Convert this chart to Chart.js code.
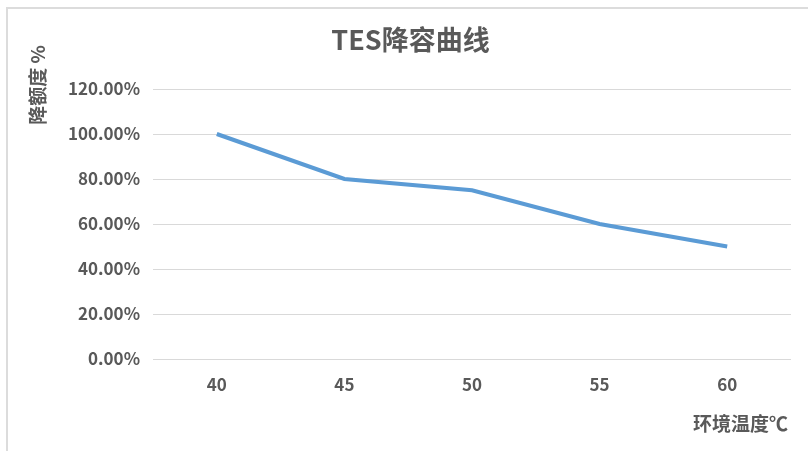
<!DOCTYPE html>
<html>
<head>
<meta charset="utf-8">
<script src="https://cdn.jsdelivr.net/npm/chart.js@4"></script>
<style>
  html, body { margin: 0; padding: 0; background: #fff; }
  #wrap { position: relative; width: 808px; height: 451px; overflow: hidden; }
  #frame {
    position: absolute; left: 6px; top: 7px; width: 900px; height: 500px;
    border-left: 2px solid #dcdcdc; border-top: 2px solid #dcdcdc;
  }
  canvas { position: absolute; left: 0; top: 0; }
</style>
</head>
<body>
<div id="wrap">
  <div id="frame"></div>
  <canvas id="chart" width="808" height="451"></canvas>
</div>
<script>
// 环境温度 (℃) 与对应降额度
const temps = ['40', '45', '50', '55', '60'];
const derating = [1.00, 0.80, 0.75, 0.60, 0.50];
const yTicks = [0, 0.2, 0.4, 0.6, 0.8, 1.0, 1.2];

const FONT = '"Noto Sans CJK SC", "Noto Sans", sans-serif';
const GREY = '#595959';

// 坐标轴标题画在图表区外侧
const axisTitles = {
  id: 'axisTitles',
  afterDraw(chart) {
    const ctx = chart.ctx;
    ctx.save();
    ctx.fillStyle = GREY;
    ctx.font = 'bold 19px ' + FONT;
    ctx.textBaseline = 'middle';

    ctx.textAlign = 'right';
    ctx.fillText('环境温度℃', 788, 424);

    ctx.translate(38, 85);
    ctx.rotate(-Math.PI / 2);
    ctx.textAlign = 'center';
    ctx.fillText('降额度 %', 0, 0);
    ctx.restore();
  }
};

new Chart(document.getElementById('chart'), {
  type: 'line',
  data: {
    labels: temps,
    datasets: [{
      data: derating,
      borderColor: '#5B9BD5',
      borderWidth: 4,
      pointRadius: 0,
      tension: 0,
      fill: false
    }]
  },
  options: {
    responsive: false,
    animation: false,
    layout: { padding: { left: 30, right: 17, top: 0, bottom: 0 } },
    plugins: {
      legend: { display: false },
      tooltip: { enabled: false },
      title: {
        display: true,
        text: 'TES降容曲线',
        color: GREY,
        font: { family: FONT, size: 27, weight: 'bold', lineHeight: 1.2 },
        padding: { top: 24, bottom: 32.6 }
      }
    },
    scales: {
      x: {
        offset: true,
        grid: { display: false },
        border: { display: false },
        ticks: {
          color: GREY,
          padding: 7,
          font: { family: FONT, size: 17, weight: 'bold' }
        },
        afterFit(scale) { scale.height = 92; }
      },
      y: {
        min: 0,
        max: 1.2,
        afterBuildTicks(scale) { scale.ticks = yTicks.map(v => ({ value: v })); },
        grid: { color: '#d9d9d9', lineWidth: 1, drawTicks: false },
        border: { display: false },
        ticks: {
          color: GREY,
          padding: 13,
          font: { family: FONT, size: 17, weight: 'bold' },
          callback: v => (v * 100).toFixed(2) + '%'
        },
        afterFit(scale) { scale.width = 123; }
      }
    }
  },
  plugins: [axisTitles]
});
</script>
</body>
</html>
